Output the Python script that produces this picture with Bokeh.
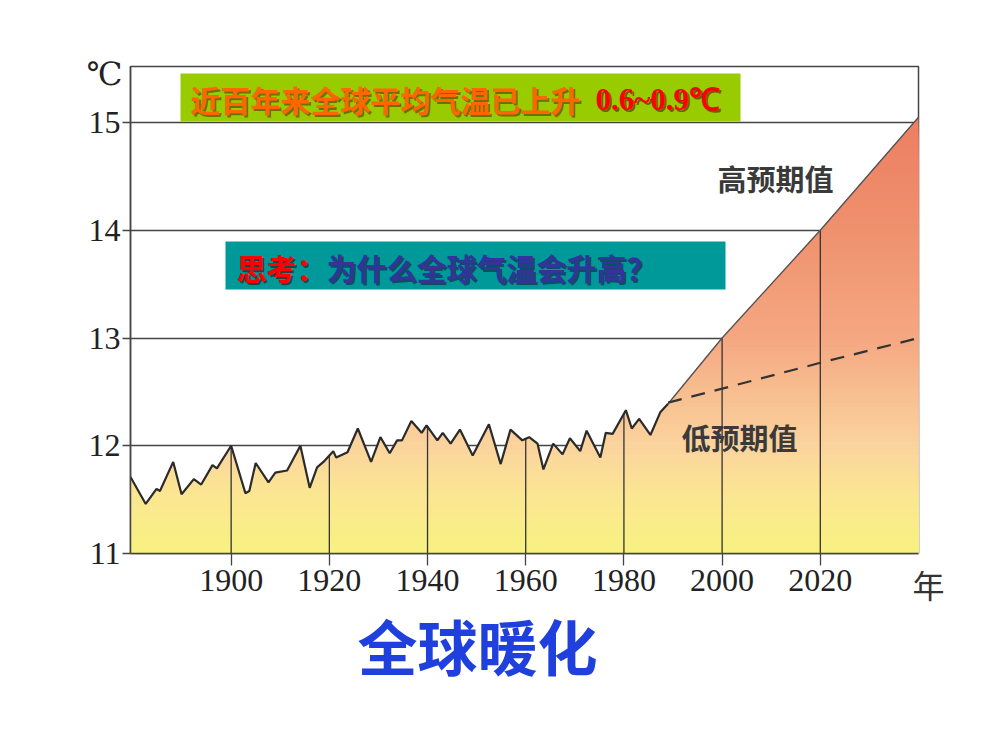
import numpy as np
from bokeh.plotting import figure
from bokeh.models import FixedTicker, BoxAnnotation, Label, Range1d, Title
from bokeh.embed import file_html
from bokeh.resources import INLINE

# ---------------- data ----------------
hist_years = [1879.5, 1882.6, 1884.8, 1885.5, 1888.2, 1889.9, 1892.4, 1893.9, 1896.2, 1897.1,
              1900.0, 1902.9, 1903.7, 1905.0, 1907.6, 1909.0, 1911.4, 1914.1, 1916.0, 1917.5,
              1918.8, 1920.8, 1921.4, 1923.7, 1925.8, 1928.5, 1930.4, 1932.3, 1933.8, 1934.8,
              1936.7, 1938.8, 1939.8, 1942.0, 1943.1, 1944.7, 1946.6, 1949.2, 1952.5, 1954.9,
              1956.9, 1959.3, 1960.7, 1962.4, 1963.6, 1965.6, 1967.5, 1969.0, 1971.1, 1972.4,
              1975.2, 1976.3, 1977.7, 1980.4, 1981.6, 1983.1, 1985.4, 1987.4, 1989.0]
hist_temps = [11.71, 11.46, 11.60, 11.58, 11.85, 11.55, 11.69, 11.64, 11.82, 11.79,
              12.00, 11.56, 11.58, 11.84, 11.66, 11.75, 11.77, 12.00, 11.61, 11.80,
              11.85, 11.95, 11.89, 11.94, 12.16, 11.85, 12.08, 11.93, 12.05, 12.05,
              12.23, 12.12, 12.19, 12.05, 12.12, 12.02, 12.15, 11.91, 12.20, 11.83,
              12.15, 12.05, 12.08, 12.02, 11.78, 12.02, 11.92, 12.07, 11.95, 12.14,
              11.89, 12.12, 12.11, 12.33, 12.16, 12.25, 12.10, 12.31, 12.39]

proj_years = [1989.0, 2000.0, 2020.0, 2040.0]
high_proj = [12.39, 13.0, 14.0, 15.05]   # 高预期值
low_proj = [12.40, 12.53, 12.77, 13.0]   # 低预期值

x_ticks = [1900, 1920, 1940, 1960, 1980, 2000, 2020]
y_ticks = [11, 12, 13, 14, 15]

title_text = "近百年来全球平均气温已上升 "
title_value = "0.6~0.9℃"
question_head = "思考："
question_body = "为什么全球气温会升高？"
high_label = "高预期值"
low_label = "低预期值"
unit_y = "℃"
unit_x = "年"
caption = "全球暖化"

# ---------------- figure ----------------
X0, X1 = 1879.5, 2040.0
Y0, Y1 = 11.0, 15.52
FL, FR, FT, FB = 130, 918, 66, 553

p = figure(width=999, height=750, output_backend="svg", toolbar_location=None,
           x_range=Range1d(X0, X1), y_range=Range1d(Y0, Y1),
           min_border_left=FL, min_border_right=999 - FR,
           min_border_top=FT, min_border_bottom=750 - FB)
p.background_fill_color = "white"
p.border_fill_color = "white"
p.outline_line_color = "#444444"
p.outline_line_width = 1.5


def X(px):
    return X0 + (px - FL) * (X1 - X0) / (FR - FL)


def Y(py):
    return Y0 + (FB - py) * (Y1 - Y0) / (FB - FT)


# axes
p.xaxis.ticker = FixedTicker(ticks=x_ticks)
p.yaxis.ticker = FixedTicker(ticks=y_ticks)
for ax in (p.xaxis, p.yaxis):
    ax.major_label_text_font = "Liberation Serif"
    ax.major_label_text_font_size = "32px"
    ax.major_label_text_color = "#222222"
    ax.axis_line_color = "#444444"
    ax.axis_line_width = 1.5
    ax.major_tick_line_color = "#444444"
    ax.major_tick_line_width = 1.3
    ax.major_tick_in = 0
    ax.minor_tick_out = 0
    ax.minor_tick_in = 0
p.xaxis.major_tick_out = 12
p.xaxis.major_label_standoff = 4
p.yaxis.major_tick_out = 8
p.yaxis.major_label_standoff = 2

p.xgrid.grid_line_color = None
p.ygrid.ticker = FixedTicker(ticks=[12, 13, 14, 15])
p.ygrid.grid_line_color = "#444444"
p.ygrid.grid_line_width = 1.3

# ---------------- gradient fill under the envelope ----------------
env_x = np.array(hist_years[:-1] + proj_years)
env_y = np.array(hist_temps[:-1] + high_proj)
xd = np.linspace(env_x[0], env_x[-1], 1400)
yd = np.interp(xd, env_x, env_y)

stops_t = [11.0, 11.5, 12.0, 12.5, 13.0, 14.0, 15.1]
stops_c = np.array([(248, 242, 128), (251, 232, 146), (251, 212, 158), (248, 190, 144),
                    (245, 168, 130), (240, 145, 110), (236, 126, 98)], dtype=float)


def grad(t):
    r = np.interp(t, stops_t, stops_c[:, 0])
    g = np.interp(t, stops_t, stops_c[:, 1])
    b = np.interp(t, stops_t, stops_c[:, 2])
    return "#%02x%02x%02x" % (int(r), int(g), int(b))


levels = np.arange(11.04, 15.12, 0.04)
for lev in levels[::-1]:
    p.varea(x=xd, y1=np.full_like(xd, Y0), y2=np.minimum(lev, yd),
            fill_color=grad(lev - 0.02), fill_alpha=1.0)

# vertical lines from the bottom up to the curve
p.segment(x0=x_ticks, y0=[Y0] * len(x_ticks), x1=x_ticks,
          y1=list(np.interp(x_ticks, env_x, env_y)),
          line_color="#333333", line_width=1.3)

# curves
p.line(hist_years, hist_temps, line_color="#2b2b2b", line_width=2.2)
p.line(proj_years, high_proj, line_color="#555555", line_width=1.4)
p.line(proj_years, low_proj, line_color="#333333", line_width=2.2, line_dash="14 10")

# ---------------- annotations ----------------
p.add_layout(BoxAnnotation(left=X(180), right=X(740), top=Y(73), bottom=Y(121),
                           fill_color="#99cc00", fill_alpha=1, line_color=None))
p.add_layout(BoxAnnotation(left=X(225), right=X(725), top=Y(241), bottom=Y(289),
                           fill_color="#009999", fill_alpha=1, line_color=None))


def label(txt, px, py, size, color, font="Noto Sans CJK SC", style="bold",
          align="left", shadow=None, salpha=0.55):
    if shadow:
        p.add_layout(Label(x=X(px), y=Y(py), text=txt, text_font=font,
                           text_font_size=size, text_font_style=style,
                           text_color=shadow, text_alpha=salpha,
                           text_align=align, text_baseline="middle",
                           x_offset=2, y_offset=-2))
    p.add_layout(Label(x=X(px), y=Y(py), text=txt, text_font=font,
                       text_font_size=size, text_font_style=style,
                       text_color=color, text_align=align, text_baseline="middle"))


label(title_text, 190, 98, "30px", "#ff6600", shadow="#4a2000")
label(title_value, 595, 99, "31px", "#ff0000", font="Liberation Serif", shadow="#4a0000")
label(question_head, 236, 266, "30px", "#ff0000", shadow="#300000")
label(question_body, 326, 266, "30px", "#333399", shadow="#101030")
label(high_label, 775, 177, "29px", "#3a3a3a", align="center")
label(low_label, 739, 436, "29px", "#3a3a3a", align="center")

# "年" beside the x axis, in the right-hand side panel (not clipped to the frame)
p.add_layout(Label(x=10, y=-30, x_units="screen", y_units="screen", text=unit_x,
                   text_font="Noto Sans CJK SC", text_font_size="32px",
                   text_color="#333333", text_align="center", text_baseline="middle"),
             "right")

# "℃" above the y axis, in the top side panel
p.add_layout(Label(x=-26, y=-7, x_units="screen", y_units="screen", text=unit_y,
                   text_font="DejaVu Serif", text_font_size="32px",
                   text_color="#222222", text_align="center", text_baseline="middle"),
             "above")

# caption below the chart
p.add_layout(Title(text=caption, align="left", offset=227, standoff=10,
                   text_font="Noto Sans CJK SC", text_font_size="60px",
                   text_font_style="bold", text_color="#2040dd"), "below")

open("out.html", "w").write(file_html(p, INLINE))
